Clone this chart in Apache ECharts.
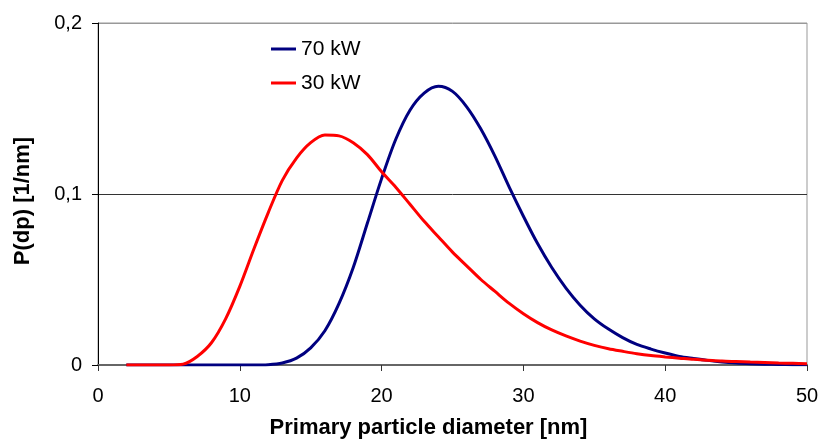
<!DOCTYPE html>
<html>
<head>
<meta charset="utf-8">
<script src="https://cdn.jsdelivr.net/npm/echarts@6/dist/echarts.min.js"></script>
<style>html,body{margin:0;padding:0;background:#fff;}#c{width:820px;height:440px;}</style>
</head>
<body>
<div id="c"></div>
<script>
var diameters = [2,3,4,5,6,7,8,9,10,11,12,13,14,15,16,17,18,19,20,21,22,23,24,25,26,27,28,29,30,31,32,33,34,35,36,37,38,39,40,41,42,43,44,45,46,47,48,49,50];
var p70kW = [0,0,0,0,0,0,0,0,0,0,0.0002,0.0012,0.004,0.010,0.020,0.036,0.057,0.083,0.109,0.132,0.149,0.159,0.163,0.160,0.151,0.138,0.122,0.104,0.087,0.071,0.057,0.045,0.035,0.027,0.021,0.016,0.012,0.0093,0.007,0.005,0.0038,0.0027,0.0018,0.0012,0.0008,0.0005,0.0003,0.0002,0.0001];
var p30kW = [0,0,0,0,0.0005,0.005,0.013,0.027,0.046,0.068,0.089,0.108,0.121,0.130,0.1345,0.134,0.130,0.123,0.113,0.104,0.094,0.084,0.075,0.066,0.058,0.050,0.043,0.036,0.030,0.0248,0.0205,0.017,0.014,0.0115,0.0095,0.008,0.0066,0.0055,0.0047,0.004,0.0033,0.0028,0.0023,0.002,0.0017,0.0015,0.0012,0.001,0.0008];
var seriesNames = ['70 kW', '30 kW'];
var xTitle = 'Primary particle diameter [nm]';
var yTitle = 'P(dp) [1/nm]';

function pairs(vals){ return diameters.map(function(d,i){ return [d, vals[i]]; }); }

var chart = echarts.init(document.getElementById('c'), null, {renderer:'canvas'});
var font = 'Liberation Sans, Arial, sans-serif';
chart.setOption({
  animation: false,
  backgroundColor: '#ffffff',
  grid: {left: 98, right: 13, top: 23, bottom: 75, show: true, borderColor: '#999', borderWidth: 1,
         containLabel: false, outerBoundsMode: 'none'},
  legend: {
    orient: 'vertical', left: 266, top: 33, itemWidth: 25, itemHeight: 3, itemGap: 12,
    icon: 'rect',
    textStyle: {fontFamily: font, fontSize: 21, color: '#000', lineHeight: 22},
    data: seriesNames
  },
  xAxis: {
    type: 'value', min: 0, max: 50, interval: 10,
    name: xTitle, nameLocation: 'middle', nameGap: 52,
    nameTextStyle: {fontFamily: font, fontSize: 22, fontWeight: 'bold', color: '#000', padding: [0, 48, 0, 0]},
    axisLine: {show: true, onZero: false, lineStyle: {color: '#666', width: 2}},
    axisTick: {show: true, inside: false, length: 6, lineStyle: {color: '#333'}},
    axisLabel: {fontFamily: font, fontSize: 20, color: '#000', margin: 21},
    splitLine: {show: false}
  },
  yAxis: {
    type: 'value', min: 0, max: 0.2, interval: 0.1,
    name: yTitle, nameLocation: 'middle', nameGap: 64,
    nameTextStyle: {fontFamily: font, fontSize: 22, fontWeight: 'bold', color: '#000', padding: [0, 14, 0, 0]},
    axisLine: {show: true, lineStyle: {color: '#000', width: 1}},
    axisTick: {show: true, inside: false, length: 6, lineStyle: {color: '#000'}},
    axisLabel: {fontFamily: font, fontSize: 20, color: '#000', margin: 16,
      formatter: function(v){ return String(Math.round(v*10)/10).replace('.', ','); }},
    splitLine: {show: true, lineStyle: {color: ['#666', '#333', '#999'], width: 1}}
  },
  series: [
    {name: seriesNames[0], type: 'line', data: pairs(p70kW), smooth: 0.3, symbol: 'none',
     lineStyle: {color: '#000080', width: 3}, itemStyle: {color: '#000080'}},
    {name: seriesNames[1], type: 'line', data: pairs(p30kW), smooth: 0.3, symbol: 'none',
     lineStyle: {color: '#ff0000', width: 3}, itemStyle: {color: '#ff0000'}}
  ]
});
</script>
</body>
</html>
